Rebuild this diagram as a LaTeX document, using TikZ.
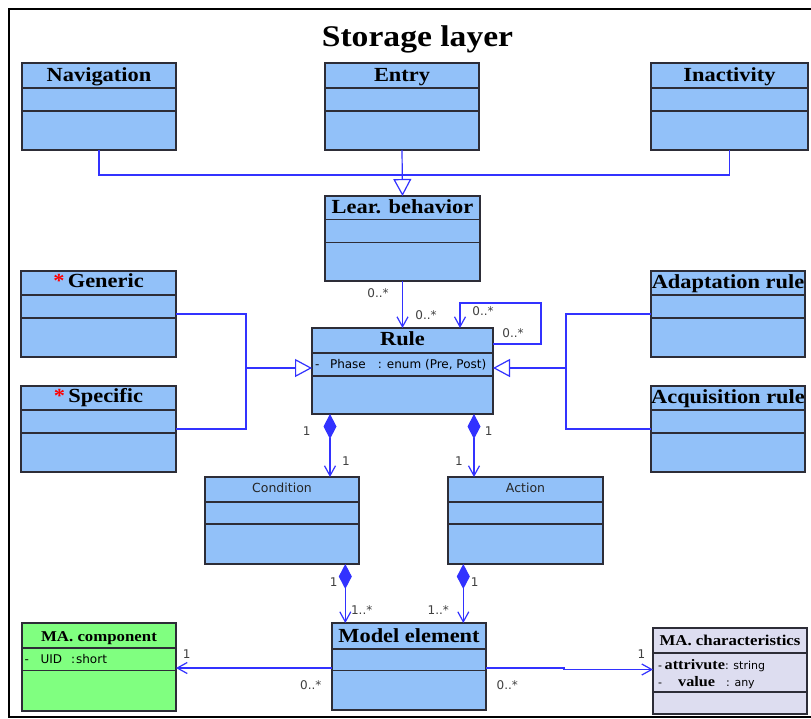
\documentclass[tikz,border=0pt]{standalone}
\usepackage{fontspec}
\setmainfont{Liberation Serif}
\newfontfamily\hdfont[FakeStretch=1.12]{Liberation Serif}
\newfontfamily\lbfont{DejaVu Sans}
\usetikzlibrary{arrows.meta,calc}

\definecolor{classblue}{RGB}{146,193,249}
\definecolor{classgreen}{RGB}{128,255,128}
\definecolor{classlilac}{RGB}{221,221,240}
\definecolor{wire}{RGB}{50,50,255}
\definecolor{edge}{RGB}{45,45,55}

\newcommand{\fsz}[1]{\fontsize{#1}{#1}\selectfont}

% class box: name, x, y, width, height, first rule, second rule, fill
\newcommand{\classbox}[8]{%
  \node[umlbox, fill=#8, minimum width=#4, minimum height=#5, anchor=north west] (#1) at (#2,#3) {};
  \draw[classrule] ($(#1.north west)+(0,#6)$) -- ($(#1.north east)+(0,#6)$);
  \draw[classrule] ($(#1.north west)+(0,#7)$) -- ($(#1.north east)+(0,#7)$);
}
% class title: name, box, baseline offset, style, text
\newcommand{\classtitle}[5]{%
  \node[anchor=base, inner sep=0pt, #4] (#1) at ($(#2.north)+(0,#3)$) {#5};
}

\begin{document}
\begin{tikzpicture}[x=1pt,y=-1pt,
  umlbox/.style={draw=edge, line width=1.3pt, inner sep=0pt, outer sep=0pt},
  classrule/.style={draw=edge, line width=1.2pt},
  hd/.style={font={\hdfont\bfseries\fsz{20}}},
  hdsmall/.style={font={\hdfont\bfseries\fsz{15}}},
  hdsans/.style={font={\lbfont\fsz{12.5}}, text=black!85},
  mult/.style={font={\lbfont\fsz{12}}, text=black!75, inner sep=0pt},
  attr/.style={font={\lbfont\fsz{12}}, inner sep=0pt, anchor=base west},
  attrsmall/.style={font={\lbfont\fsz{11}}, inner sep=0pt, anchor=base west},
  wireline/.style={draw=wire, line width=1.2pt},
  assoc/.style={wireline, -{Straight Barb[length=10pt,width=11pt]}},
  gen/.style={wireline, -{Triangle[open,length=17pt,width=18pt,fill=white]}},
  comp/.style={wireline, {Diamond[length=25pt,width=13pt]}-{Straight Barb[length=10pt,width=11pt]}},
]
\fill[white] (0,0) rectangle (811,718);
\useasboundingbox (0,0) rectangle (811,718);
\draw[line width=2pt, black] (811,9) -| (8.5,716.5) -- (811,716.5);

\node[anchor=base, inner sep=0pt, font={\hdfont\bfseries\fsz{30}}] (title) at (417.5,46.5) {Storage layer};

% classes
\classbox{nav}{22}{63}{154}{87}{25}{48}{classblue}
\classbox{entry}{325}{63}{154}{87}{25}{48}{classblue}
\classbox{inact}{651}{63}{157}{87}{25}{48}{classblue}
\classbox{lear}{325}{196}{155}{85}{23.3}{46.3}{classblue}
\classbox{rule}{312}{328}{181}{86}{25}{48}{classblue}
\classbox{generic}{21}{271}{155}{86}{24}{47}{classblue}
\classbox{specific}{21}{386}{155}{86}{24}{47}{classblue}
\classbox{adapt}{651}{271}{154}{86}{24}{47}{classblue}
\classbox{acq}{651}{386}{154}{86}{24}{47}{classblue}
\classbox{cond}{205}{477}{154}{87}{25}{47}{classblue}
\classbox{action}{448}{477}{155}{87}{25}{47}{classblue}
\classbox{model}{332}{623}{154}{87}{26}{47.5}{classblue}
\classbox{macomp}{22}{623}{154}{88}{25}{47.5}{classgreen}
\classbox{machar}{653}{628}{154}{86}{25}{64}{classlilac}

% titles
\classtitle{navT}{nav}{18.7}{hd}{Navigation}
\classtitle{entryT}{entry}{18.7}{hd}{Entry}
\classtitle{inactT}{inact}{18.7}{hd}{Inactivity}
\classtitle{learT}{lear}{17.3}{hd}{Lear. behavior}
\classtitle{ruleT}{rule}{17.7}{hd}{Rule}
\classtitle{genericT}{generic}{16.7}{hd}{{\color{red}*}\,Generic}
\classtitle{specificT}{specific}{16.5}{hd}{{\color{red}*}\,Specific}
\classtitle{adaptT}{adapt}{17.5}{hd}{Adaptation rule}
\classtitle{acqT}{acq}{17.8}{hd}{Acquisition rule}
\classtitle{condT}{cond}{15.7}{hdsans}{Condition}
\classtitle{actionT}{action}{15.7}{hdsans}{Action}
\classtitle{modelT}{model}{19.5}{hd}{Model element}
\classtitle{macompT}{macomp}{18.7}{hdsmall}{MA. component}
\classtitle{macharT}{machar}{17.7}{hdsmall}{MA. characteristics}

% attributes
\node[attr] (phase) at (315,368) {-\hspace{10.5pt}Phase\hspace{12pt}: enum (Pre, Post)};
\node[attr] (uid) at (24.5,663.3) {-\hspace{11.5pt}UID\hspace{9pt}:\hspace{1pt}short};
\node[attrsmall] (attA) at (658,669) {-\hspace{2.5pt}{\hdfont\bfseries\fsz{14.5}attrivute}: string};
\node[attrsmall] (attB) at (658,686) {-\hspace{16pt}{\hdfont\bfseries\fsz{14.5}value}\hspace{11pt}: any};

% generalisations
\coordinate (topj) at (402,175);
\draw[wireline] (nav.south) |- (topj) -| (inact.south);
\draw[gen] (entry.south) -- (lear.north);

\coordinate (leftj) at (246,368);
\draw[wireline] (generic.east) -| (leftj) |- (specific.east);
\draw[gen] (leftj) -- (leftj -| rule.west);

\coordinate (rightj) at (566,368);
\draw[wireline] (adapt.west) -| (rightj) |- (acq.west);
\draw[gen] (rightj) -- (rightj -| rule.east);

% associations into Rule
\draw[assoc] (lear.south) -- (lear.south |- rule.north);
\coordinate (selfA) at ($(rule.north east)+(0,16)$);
\coordinate (selfB) at ($(rule.north east)+(48,-25)$);
\coordinate (selfC) at ($(rule.north west)+(148,0)$);
\draw[assoc] (selfA) -| (selfB) -| (selfC);

% compositions
\coordinate (c1) at ($(rule.south west)+(18,0)$);
\coordinate (c2) at ($(rule.south east)+(-19,0)$);
\coordinate (c3) at ($(cond.south west)+(140.3,0)$);
\coordinate (c4) at ($(action.south west)+(15.3,0)$);
\draw[comp] (c1) -- (c1 |- cond.north);
\draw[comp] (c2) -- (c2 |- action.north);
\draw[comp] (c3) -- (c3 |- model.north);
\draw[comp] (c4) -- (c4 |- model.north);

% associations from Model element
\coordinate (mL) at ($(model.north west)+(0,45)$);
\coordinate (mR) at ($(model.north east)+(0,45)$);
\draw[assoc] (mL) -- (mL -| macomp.east);
\draw[assoc] (mR) -- ++(78,0) -- ++(0,1.5) -- ($(mR -| machar.west)+(0,1.5)$);

% multiplicities
\node[mult] (m1) at (378,293) {0..*};
\node[mult] (m2) at (426,315) {0..*};
\node[mult] (m3) at (483,311) {0..*};
\node[mult] (m4) at (513,333) {0..*};
\node[mult] (m5) at (306.7,430.7) {1};
\node[mult] (m6) at (346,460.7) {1};
\node[mult] (m7) at (488.7,430.7) {1};
\node[mult] (m8) at (459,460.7) {1};
\node[mult] (m9) at (333.7,582) {1};
\node[mult] (m10) at (361.7,610.5) {1..*};
\node[mult] (m11) at (474.7,582) {1};
\node[mult] (m12) at (438.3,610.5) {1..*};
\node[mult] (m13) at (186.7,654.3) {1};
\node[mult] (m14) at (310.8,685) {0..*};
\node[mult] (m15) at (641.5,654) {1};
\node[mult] (m16) at (507.3,685) {0..*};
\end{tikzpicture}
\end{document}
